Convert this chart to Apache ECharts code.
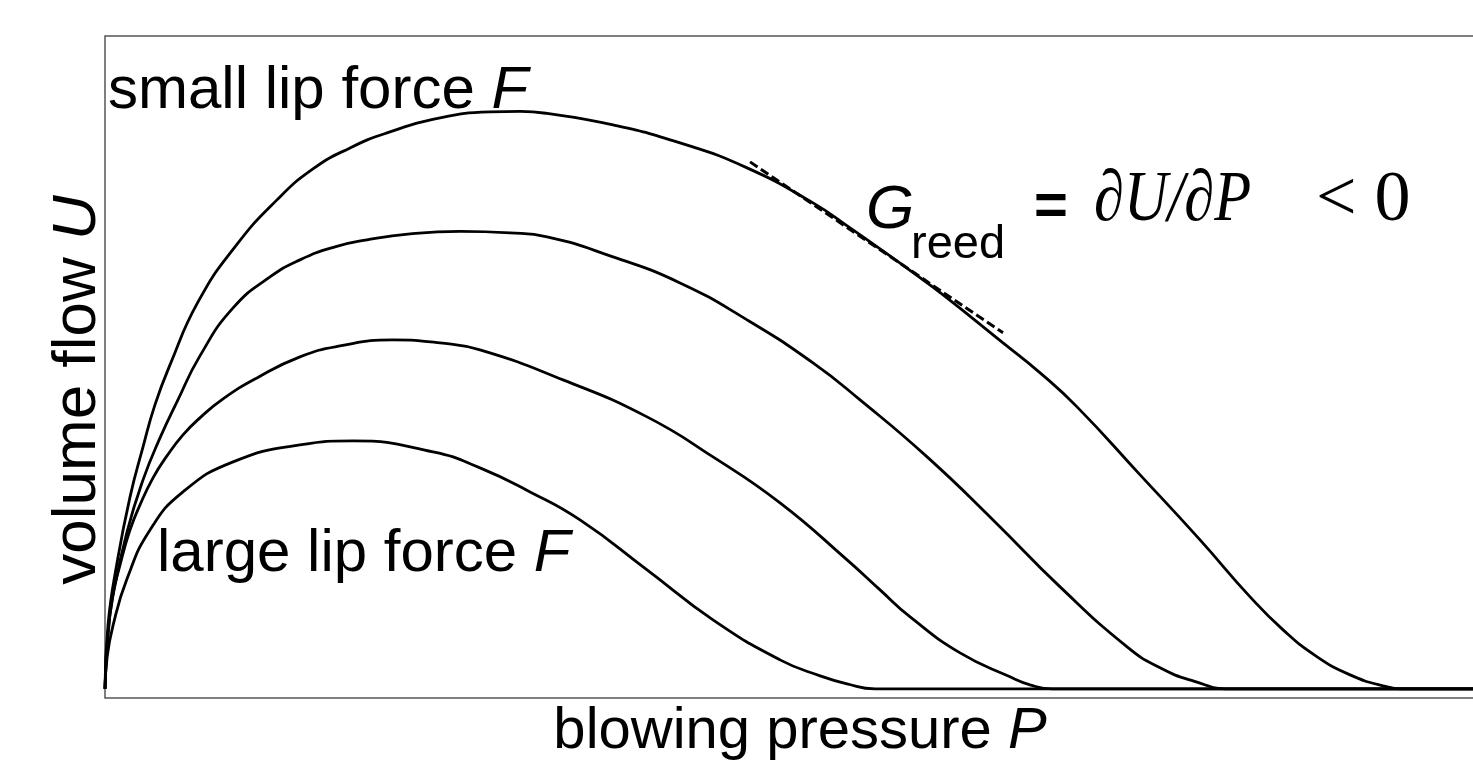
<!DOCTYPE html>
<html>
<head>
<meta charset="utf-8">
<title>Reed flow curves</title>
<script src="https://cdn.jsdelivr.net/npm/echarts@6/dist/echarts.min.js"></script>
<style>
  html, body { margin: 0; padding: 0; background: #fff; }
  #chart { width: 1473px; height: 768px; }
</style>
</head>
<body>
<div id="chart"></div>
<script>
// Volume flow U against blowing pressure P for four lip forces (arbitrary units).
// Small lip force: highest, widest curve.
const P_SMALL = [0, 0.22, 0.88, 1.83, 2.78, 3.65, 4.75, 6.8, 9.5, 12.57, 15.2, 17.91, 20.61, 24.49, 28.14, 30.34, 32.31, 37.13, 42.03, 46.93, 51.75, 54.46, 56.65, 58.99, 61.26, 65.64, 68.35, 71.05, 75.66, 80.04, 83.7, 86.11, 88.6, 91.01, 93.42, 95.03, 101.6];
const U_SMALL = [0, 9.8, 19.3, 29.41, 37.07, 43.5, 49.62, 59.27, 67.7, 74.9, 79.64, 82.86, 85.16, 87.46, 88.37, 88.45, 88.14, 86.38, 83.63, 79.8, 74.44, 70.61, 67.39, 63.87, 60.35, 52.99, 48.4, 43.19, 32.78, 22.82, 14.09, 9.04, 4.9, 2.14, 0.46, 0, 0];

const P_MEDSMALL = [0, 0.22, 0.58, 1.61, 2.78, 4.02, 5.26, 6.94, 9.36, 12.06, 14.25, 16.81, 19.15, 22.3, 25.95, 29.61, 32.31, 37.13, 42.03, 46.93, 51.75, 55.19, 60.09, 64.91, 69.81, 74.71, 77.12, 79.53, 82.24, 101.6];
const U_MEDSMALL = [0, 8.73, 14.24, 24.05, 32.01, 38.44, 43.96, 51.0, 58.35, 63.1, 65.71, 67.7, 68.77, 69.69, 70.07, 69.84, 69.23, 66.17, 62.18, 56.52, 49.93, 44.26, 35.53, 25.88, 15.62, 6.43, 3.22, 1.23, 0, 0];

const P_MEDLARGE = [0, 0.15, 0.51, 1.1, 1.83, 2.56, 3.51, 4.53, 5.7, 6.94, 8.63, 11.11, 14.25, 17.18, 21.05, 24.49, 27.41, 33.48, 39.62, 44.44, 49.34, 54.24, 56.65, 58.85, 62.5, 66.15, 67.62, 69.23, 101.6];
const U_MEDLARGE = [0, 5.97, 13.63, 18.99, 24.35, 28.18, 32.32, 35.69, 38.9, 41.51, 44.42, 47.63, 50.85, 52.53, 53.45, 52.99, 51.92, 47.33, 41.66, 35.53, 28.49, 19.76, 15.16, 11.03, 5.51, 1.84, 0.61, 0, 0];

// Large lip force: lowest, narrowest curve.
const P_LARGE = [0, 0.15, 0.58, 1.61, 3.29, 5.7, 9.36, 14.25, 18.13, 23.98, 27.41, 31.07, 34.72, 39.62, 44.44, 49.34, 52.27, 54.24, 56.29, 101.6];
const U_LARGE = [0, 4.75, 9.65, 16.85, 24.35, 30.17, 34.77, 37.37, 37.98, 36.3, 33.85, 30.17, 25.88, 18.23, 10.57, 4.44, 1.99, 0.77, 0, 0];

// Tangent with negative slope on the small-force curve.
const TANGENT_P = [47.15, 65.64];
const TANGENT_U = [80.72, 54.53];

const zip = (xs, ys) => xs.map((x, i) => [x, ys[i]]);

const SANS = '"Liberation Sans", Arial, Helvetica, sans-serif';
const SERIF = '"Liberation Serif", "Times New Roman", "DejaVu Serif", serif';

const curveStyle = { color: '#000', width: 2.8 };

function curve(name, xs, ys) {
  return {
    name: name,
    type: 'line',
    data: zip(xs, ys),
    smooth: 0.5,
    showSymbol: false,
    lineStyle: curveStyle,
    itemStyle: { color: '#000' },
    silent: true,
    z: 3
  };
}

const chart = echarts.init(document.getElementById('chart'));

chart.setOption({
  animation: false,
  backgroundColor: '#fff',
  grid: {
    left: 105, top: 36, width: 1390, height: 662,
    outerBoundsMode: 'none',
    containLabel: false,
    show: true, borderColor: '#555', borderWidth: 1.5, backgroundColor: 'transparent'
  },
  xAxis: {
    type: 'value', min: 0, max: 101.6,
    axisLine: { show: false }, axisTick: { show: false },
    axisLabel: { show: false }, splitLine: { show: false },
    name: '{a|blowing pressure }{b|P}',
    nameLocation: 'middle',
    nameGap: 5,
    nameTextStyle: {
      rich: {
        a: { fontFamily: SANS, fontSize: 58, color: '#000' },
        b: { fontFamily: SANS, fontSize: 58, fontStyle: 'italic', color: '#000' }
      }
    }
  },
  yAxis: {
    type: 'value', min: -1.4, max: 100,
    axisLine: { show: false }, axisTick: { show: false },
    axisLabel: { show: false }, splitLine: { show: false }
  },
  series: [
    curve('small lip force', P_SMALL, U_SMALL),
    curve('medium-small lip force', P_MEDSMALL, U_MEDSMALL),
    curve('medium-large lip force', P_MEDLARGE, U_MEDLARGE),
    curve('large lip force', P_LARGE, U_LARGE),
    {
      name: 'tangent',
      type: 'line',
      data: zip(TANGENT_P, TANGENT_U),
      showSymbol: false,
      lineStyle: { color: '#000', width: 3, type: [9, 4] },
      silent: true,
      z: 4
    }
  ],
  graphic: [
    {
      type: 'text', x: 78, y: 390, rotation: Math.PI / 2,
      style: {
        text: '{a|volume flow }{b|U}',
        align: 'center', verticalAlign: 'middle',
        rich: {
          a: { fontFamily: SANS, fontSize: 62, fill: '#000' },
          b: { fontFamily: SANS, fontSize: 62, fontStyle: 'italic', fill: '#000' }
        }
      }
    },
    {
      type: 'text', x: 108, y: 91,
      style: {
        text: '{a|small lip force }{b|F}',
        align: 'left', verticalAlign: 'middle',
        rich: {
          a: { fontFamily: SANS, fontSize: 60, fill: '#000' },
          b: { fontFamily: SANS, fontSize: 60, fontStyle: 'italic', fill: '#000' }
        }
      }
    },
    {
      type: 'text', x: 157, y: 554,
      style: {
        text: '{a|large lip force }{b|F}',
        align: 'left', verticalAlign: 'middle',
        rich: {
          a: { fontFamily: SANS, fontSize: 60, fill: '#000' },
          b: { fontFamily: SANS, fontSize: 60, fontStyle: 'italic', fill: '#000' }
        }
      }
    },
    {
      type: 'text', x: 866, y: 211,
      style: { text: 'G', font: 'italic 62px ' + SANS, fill: '#000', align: 'left', verticalAlign: 'middle' }
    },
    {
      type: 'text', x: 911, y: 245,
      style: { text: 'reed', font: '47px ' + SANS, fill: '#000', align: 'left', verticalAlign: 'middle' }
    },
    {
      type: 'text', x: 1034, y: 208,
      style: { text: '=', font: 'bold 58px ' + SANS, fill: '#000', align: 'left', verticalAlign: 'middle' }
    },
    {
      type: 'text', x: 1094, y: 201, scaleX: 0.84,
      style: { text: '\u2202U/\u2202P', font: 'italic 72px ' + SERIF, fill: '#000', align: 'left', verticalAlign: 'middle' }
    },
    {
      type: 'text', x: 1316, y: 201,
      style: { text: '< 0', font: '72px ' + SERIF, fill: '#000', align: 'left', verticalAlign: 'middle' }
    }
  ]
});
</script>
</body>
</html>
